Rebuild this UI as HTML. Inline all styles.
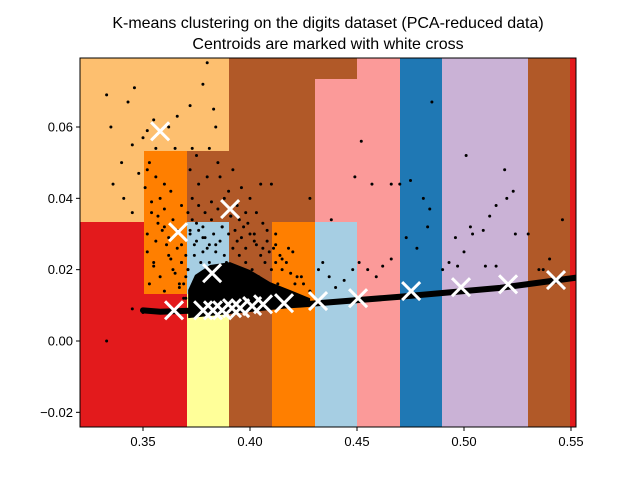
<!DOCTYPE html>
<html><head><meta charset="utf-8"><style>
body{margin:0;background:#fff;}
svg text{font-family:"Liberation Sans","DejaVu Sans",sans-serif;}
#regions rect{shape-rendering:crispEdges;}
</style></head><body>
<svg id="chart" width="640" height="480" xmlns="http://www.w3.org/2000/svg">
<text x="328" y="28" text-anchor="middle" font-size="16">K-means clustering on the digits dataset (PCA-reduced data)</text>
<text x="328" y="49" text-anchor="middle" font-size="16">Centroids are marked with white cross</text>
<defs><clipPath id="clip"><rect x="80" y="58" width="496" height="369"/></clipPath></defs>
<g id="regions" clip-path="url(#clip)"></g>
<g id="points" clip-path="url(#clip)"></g>
<g id="cents" clip-path="url(#clip)"></g>
<rect x="80" y="58" width="496" height="369" fill="none" stroke="#000" stroke-width="1"/>
<g id="axes"></g>
</svg>
<script>
const xTicks=[0.35,0.40,0.45,0.50,0.55];
const xTickLabels=["0.35","0.40","0.45","0.50","0.55"];
const yTicks=[-0.02,0.00,0.02,0.04,0.06];
const yTickLabels=["\u22120.02","0.00","0.02","0.04","0.06"];
const regionX0=[0.3206,0.3206,0.3505,0.3206,0.3505,0.3706,0.3706,0.3706,0.3902,0.3902,0.4103,0.4103,0.4304,0.4304,0.4500,0.4701,0.4898,0.5299,0.5496,0.3902];
const regionX1=[0.3902,0.3505,0.3706,0.3505,0.3706,0.3902,0.3902,0.4304,0.4500,0.4103,0.4304,0.4304,0.4500,0.4500,0.4701,0.4898,0.5299,0.5496,0.5530,0.4304];
const regionY0=[0.0532,0.0333,0.0131,-0.03,-0.03,0.0131,-0.03,0.0333,0.0734,-0.03,0.0333,-0.03,-0.03,0.0333,-0.03,-0.03,-0.03,-0.03,-0.03,0.0333];
const regionY1=[0.08,0.0532,0.0532,0.0333,0.0131,0.0333,0.0131,0.0532,0.08,0.0333,0.0734,0.0333,0.0333,0.0734,0.08,0.08,0.08,0.08,0.08,0.0734];
const regionColor=["#fdbf6f","#fdbf6f","#ff7f00","#e31a1c","#e31a1c","#a6cee3","#ffff99","#b15928","#b15928","#b15928","#b15928","#ff7f00","#a6cee3","#fb9a99","#fb9a99","#1f78b4","#cab2d6","#b15928","#e31a1c","#b15928"];
const ptX=[.333,.335,.343,.346,.340,.345,.352,.355,.350,.356,.362,.366,.372,.378,.383,.384,.380,.341,.345,.348,.333,.336,.353,.365,.373,.381,
.428,.452,.457,.449,.466,.470,.475,.438,.485,.481,.484,.483,.478,.473,.501,.519,.515,.512,.509,.520,.524,.504,.496,.500,.503,.523,.530,.540,.546,.553,
.432,.434,.437,.440,.444,.448,.451,.455,.459,.462,.466,.490,.493,.497,.510,.515,.535,.537,
.418,.420,.422,.425,.415,.428,.412,
.400,.405,.410,.398,.395,.402,.408,.412,.390,.386,.380,.376,.372,.375,.385,.392,.396,.403,.406,
.352,.356,.360,.363,.358,.354,.352,.356,.360,.364,.368,.366,.362,.355,.358,.364,.368,.370,.353,.360,.367,
.372,.375,.378,.380,.383,.386,.388,.374,.377,.381,.385,.389,.392,.395,.398,.401,.404,.407,.410,.413,.390,.394,.398,.345,.350,
.351,.354,.357,.359,.361,.363,.365,.367,.369,.352,.355,.357,.360,.362,.366,.368,.370,.371,.373,.374,.376,.378,.379,.382,.384,.387,.389,.391,.393,.396,.399,.402,.405,.408,.411,.414,.417,.419,.421,.424,.371,.373,.376,.379,.382,.385,.388,.391,.394,.397,.400,.403,.406,.409,.412,.415,.372,.375,.378,.381,.384,.387,.370,.369,.371,.368];
const ptY=[.069,.060,.067,.071,.050,.055,.059,.062,.057,.054,.060,.063,.066,.072,.065,.060,.078,.040,.036,.047,.000,.044,.050,.054,.054,.054,
.040,.056,.044,.046,.044,.044,.045,.034,.067,.040,.037,.032,.026,.029,.052,.048,.038,.035,.031,.040,.030,.030,.029,.025,.032,.042,.030,.023,.034,.032,
.020,.022,.018,.015,.017,.020,.022,.020,.018,.021,.023,.020,.022,.021,.021,.021,.020,.020,
.026,.025,.018,.016,.020,.014,.022,
.040,.044,.044,.036,.034,.030,.028,.030,.042,.046,.046,.044,.048,.052,.050,.048,.043,.036,.026,
.048,.046,.044,.042,.040,.036,.030,.028,.032,.034,.038,.026,.024,.022,.018,.020,.022,.018,.016,.014,.016,
.030,.028,.032,.026,.030,.028,.024,.024,.022,.022,.020,.018,.026,.024,.022,.020,.018,.022,.020,.016,.030,.028,.026,.009,.008,
.043,.039,.035,.031,.027,.023,.019,.015,.012,.025,.021,.033,.037,.029,.031,.027,.024,.020,.034,.027,.031,.025,.029,.034,.027,.032,.022,.035,.031,.029,.033,.028,.024,.031,.026,.024,.022,.019,.016,.018,.036,.040,.038,.036,.039,.037,.040,.035,.038,.032,.030,.027,.033,.025,.027,.023,.031,.033,.029,.027,.025,.032,.012,.016,.020,.022];
const bandX=[0.3500,0.3580,0.3767,0.4234,0.4701,0.5169,0.5530];
const bandY=[0.0086,0.0082,0.0086,0.0102,0.0124,0.0149,0.0178];
const blobX=[0.3711,0.3711,0.3743,0.3813,0.3907,0.4000,0.4094,0.4187,0.4281,0.4281];
const blobY=[0.0064,0.0143,0.0185,0.0213,0.0221,0.0199,0.0165,0.0143,0.0120,0.0098];
const centX=[.3580,.3907,.3664,.3823,.3645,.3781,.3827,.3870,.3916,.3954,.4010,.4061,.4159,.4318,.4505,.4753,.4986,.5206,.5430];
const centY=[.0588,.0370,.0305,.0190,.0086,.0086,.0086,.0086,.0092,.0092,.0098,.0103,.0106,.0112,.0120,.0140,.0151,.0159,.0171];

const NS="http://www.w3.org/2000/svg";
const sx=v=>143+(v-0.35)*2140;
const sy=v=>341-v*3566.7;
function mk(tag,attrs,parent){const e=document.createElementNS(NS,tag);for(const k in attrs)e.setAttribute(k,attrs[k]);parent.appendChild(e);return e;}
const R=document.getElementById('regions'),P=document.getElementById('points'),C=document.getElementById('cents'),A=document.getElementById('axes');
regionX0.forEach((x0,i)=>{
  const x=Math.round(sx(x0)),y=Math.round(sy(regionY1[i]));
  const r=mk('rect',{x:x,y:y,width:Math.round(sx(regionX1[i]))-x,height:Math.round(sy(regionY0[i]))-y,fill:regionColor[i]},R);
  
  
});
const bl=mk('polygon',{points:blobX.map((x,i)=>sx(x)+','+sy(blobY[i])).join(' '),fill:'#000'},P);


const bd=mk('polyline',{points:bandX.map((x,i)=>sx(x)+','+sy(bandY[i])).join(' '),fill:'none',stroke:'#000','stroke-width':6,'stroke-linecap':'round'},P);


ptX.forEach((x,i)=>{
  const c=mk('circle',{cx:sx(x),cy:sy(ptY[i]),r:1.5,fill:'#000'},P);
  
  
});
centX.forEach((x,i)=>{
  const cx=sx(x),cy=sy(centY[i]),h=9;
  const p=mk('path',{d:`M${cx-h},${cy-h}L${cx+h},${cy+h}M${cx-h},${cy+h}L${cx+h},${cy-h}`,stroke:'#fff','stroke-width':3,fill:'none'},C);
  
  
});
xTicks.forEach((v,i)=>{
  const x=sx(v);
  const t=mk('line',{x1:x,y1:427,x2:x,y2:431,stroke:'#000'},A);
  
  
  const l=mk('text',{x:x,y:446,'text-anchor':'middle','font-size':13},A);
  l.textContent=xTickLabels[i];
  
  
});
yTicks.forEach((v,i)=>{
  const y=sy(v);
  const t=mk('line',{x1:76,y1:y,x2:80,y2:y,stroke:'#000'},A);
  
  
  const l=mk('text',{x:73,y:y+4.5,'text-anchor':'end','font-size':13},A);
  l.textContent=yTickLabels[i];
  
  
});
</script>
</body></html>
